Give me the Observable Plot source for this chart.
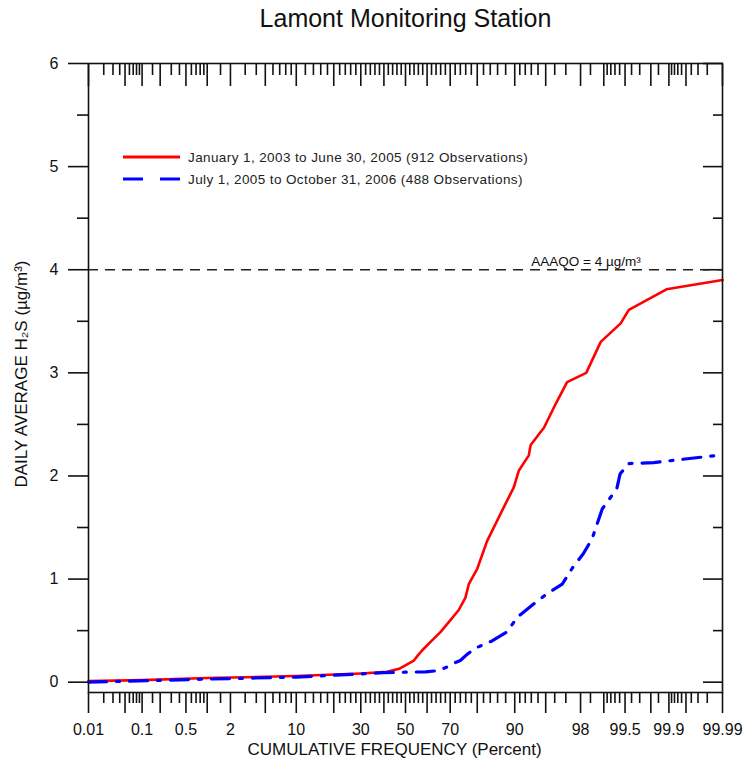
<!DOCTYPE html>
<html>
<head>
<meta charset="utf-8">
<script src="https://cdn.jsdelivr.net/npm/d3@7"></script>
<script src="https://cdn.jsdelivr.net/npm/@observablehq/plot@0.6"></script>
<style>
  html, body { margin: 0; padding: 0; background: #fff; }
  #wrap { position: relative; width: 748px; height: 765px; font-family: "Liberation Sans", Arial, sans-serif; color: #111; }
  #legend { position: absolute; left: 123px; top: 146px; font-size: 13.5px; letter-spacing: 0.4px; color: #222; }
  #legend .row { display: flex; align-items: center; height: 22px; white-space: nowrap; }
  #legend svg { margin-right: 8px; }
</style>
</head>
<body>
<div id="wrap"></div>
<script>
// ---- data (cumulative frequency in percent, daily average H2S in ug/m3) ----
const redPercent = [0.01, 0.1, 1, 10, 30, 41.5, 47, 53.9, 55.8, 57.8, 62, 65.9, 70, 73.4, 75.9, 77.1, 80, 83.1, 87.6, 89.8, 90.8, 92.6, 92.9, 94.8, 96.1, 97.1, 98.3, 98.9, 99.42, 99.56, 99.89, 99.99];
const redValue   = [0.01, 0.02, 0.04, 0.06, 0.085, 0.10, 0.13, 0.21, 0.26, 0.31, 0.40, 0.485, 0.60, 0.70, 0.82, 0.95, 1.10, 1.37, 1.70, 1.89, 2.05, 2.20, 2.30, 2.47, 2.70, 2.91, 3.00, 3.30, 3.48, 3.61, 3.81, 3.90];

const bluePercent = [0.01, 1, 10, 30, 40, 50, 59.3, 64, 68, 71, 74, 76.5, 79.4, 84.5, 88.4, 90.5, 93.4, 95.2, 96.7, 97.5, 98.15, 98.57, 98.95, 99.34, 99.41, 99.56, 99.82, 99.99];
const blueValue   = [0.0, 0.03, 0.05, 0.08, 0.093, 0.097, 0.10, 0.11, 0.14, 0.18, 0.21, 0.27, 0.33, 0.40, 0.49, 0.63, 0.76, 0.86, 0.95, 1.11, 1.245, 1.39, 1.68, 1.876, 2.02, 2.12, 2.13, 2.205];

const xTickLabels = ["0.01", "0.1", "0.5", "2", "10", "30", "50", "70", "90", "98", "99.5", "99.9", "99.99"];
const xMajorTicks = [0.01, 0.05, 0.1, 0.2, 0.5, 1, 2, 5, 10, 20, 30, 40, 50, 60, 70, 80, 90, 95, 98, 99, 99.5, 99.8, 99.9, 99.95, 99.99];
const xMinorTicks = [0.02, 0.03, 0.04, 0.06, 0.07, 0.08, 0.09, 0.15, 0.3, 0.4, 0.6, 0.7, 0.8, 0.9, 1.5, 3, 4, 6, 7, 8, 9,
  12, 14, 16, 18, 22, 24, 26, 28, 32, 34, 36, 38, 42, 44, 46, 48, 52, 54, 56, 58, 62, 64, 66, 68, 72, 74, 76, 78, 82, 84, 86, 88,
  91, 92, 93, 94, 96, 97, 98.5, 99.1, 99.2, 99.3, 99.4, 99.6, 99.7, 99.85, 99.91, 99.92, 99.93, 99.94, 99.96, 99.97, 99.98];
const yMajorTicks = [0, 1, 2, 3, 4, 5, 6];
const yMinorTicks = [0.5, 1.5, 2.5, 3.5, 4.5, 5.5];
const objectiveValue = 4;

const seriesNames = [
  "January 1, 2003 to June 30, 2005 (912 Observations)",
  "July 1, 2005 to October 31, 2006 (488 Observations)"
];

// ---- normal probability scale helper (inverse normal CDF, Acklam) ----
function probit(p) {
  const a = [-3.969683028665376e+01, 2.209460984245205e+02, -2.759285104469687e+02, 1.383577518672690e+02, -3.066479806614716e+01, 2.506628277459239e+00];
  const b = [-5.447609879822406e+01, 1.615858368580409e+02, -1.556989798598866e+02, 6.680131188771972e+01, -1.328068155288572e+01];
  const c = [-7.784894002430293e-03, -3.223964580411365e-01, -2.400758277161838e+00, -2.549732539343734e+00, 4.374664141464968e+00, 2.938163982698783e+00];
  const d = [7.784695709041462e-03, 3.224671290700398e-01, 2.445134137142996e+00, 3.754408661907416e+00];
  const plow = 0.02425, phigh = 1 - plow;
  if (p < plow) {
    const q = Math.sqrt(-2 * Math.log(p));
    return (((((c[0]*q+c[1])*q+c[2])*q+c[3])*q+c[4])*q+c[5]) / ((((d[0]*q+d[1])*q+d[2])*q+d[3])*q+1);
  } else if (p <= phigh) {
    const q = p - 0.5, r = q*q;
    return (((((a[0]*r+a[1])*r+a[2])*r+a[3])*r+a[4])*r+a[5])*q / (((((b[0]*r+b[1])*r+b[2])*r+b[3])*r+b[4])*r+1);
  } else {
    const q = Math.sqrt(-2 * Math.log(1 - p));
    return -(((((c[0]*q+c[1])*q+c[2])*q+c[3])*q+c[4])*q+c[5]) / ((((d[0]*q+d[1])*q+d[2])*q+d[3])*q+1);
  }
}
const px = (pct) => probit(pct / 100);

const red = redPercent.map((p, i) => ({x: px(p), y: redValue[i]}));
const blue = bluePercent.map((p, i) => ({x: px(p), y: blueValue[i]}));
const labelZ = xTickLabels.map(s => px(+s));
const labelMap = new Map(labelZ.map((z, i) => [z, xTickLabels[i]]));

const AX = {strokeWidth: 1.6, stroke: "#111"};

const chart = Plot.plot({
  width: 748,
  height: 765,
  marginLeft: 88,
  marginRight: 26,
  marginTop: 63,
  marginBottom: 73,
  style: {fontFamily: "Liberation Sans, Arial, sans-serif", fontSize: "16px", color: "#111", background: "#fff"},
  x: {type: "linear", domain: [px(0.01), px(99.99)], axis: null, label: null},
  y: {domain: [-0.1, 6], axis: null, label: null},
  marks: [
    // bottom axis: outward ticks
    Plot.axisX(xMajorTicks.map(px), {anchor: "bottom", tickSize: 21, fill: "none", label: null, ...AX}),
    Plot.axisX(xMinorTicks.map(px), {anchor: "bottom", tickSize: 11, fill: "none", label: null, ...AX}),
    Plot.axisX(labelZ, {anchor: "bottom", tickSize: 0, tickPadding: 31, tickFormat: d => labelMap.get(d), fontSize: 16, label: null}),
    // top axis: inward ticks
    Plot.axisX(xMajorTicks.map(px), {anchor: "top", tickSize: -22, fill: "none", label: null, ...AX}),
    Plot.axisX(xMinorTicks.map(px), {anchor: "top", tickSize: -11, fill: "none", label: null, ...AX}),
    // left axis: outward ticks
    Plot.axisY(yMajorTicks, {anchor: "left", tickSize: 20, tickPadding: 10, tickFormat: d => String(d), fontSize: 16, label: null, ...AX}),
    Plot.axisY(yMinorTicks, {anchor: "left", tickSize: 11, fill: "none", label: null, ...AX}),
    // right axis: inward ticks
    Plot.axisY(yMajorTicks, {anchor: "right", tickSize: -20, fill: "none", label: null, ...AX}),
    Plot.axisY(yMinorTicks, {anchor: "right", tickSize: -10, fill: "none", label: null, ...AX}),
    // objective line
    Plot.ruleY([objectiveValue], {stroke: "#222", strokeWidth: 1.5, strokeDasharray: "10,7"}),
    Plot.text([objectiveValue], {x: px(93), y: d => d, text: () => "AAAQO = 4 µg/m³", textAnchor: "start", lineAnchor: "bottom", dy: -4, fontSize: 13.5, letterSpacing: 0.4, fill: "#111"}),
    // series
    Plot.line(red, {x: "x", y: "y", stroke: "#ff0000", strokeWidth: 2.6}),
    Plot.line(blue, {x: "x", y: "y", stroke: "#0000ff", strokeWidth: 3.2, strokeDasharray: "18,10,3,10"}),
    Plot.frame({stroke: "#111", strokeWidth: 1.6}),
    // titles
    Plot.text(["Lamont Monitoring Station"], {frameAnchor: "top", dy: -45, lineAnchor: "middle", fontSize: 25, fill: "#111"}),
    Plot.text(["CUMULATIVE FREQUENCY (Percent)"], {frameAnchor: "bottom", dy: 62, dx: -11, fontSize: 17, letterSpacing: 0.5, fill: "#111"}),
    Plot.text(["DAILY AVERAGE H₂S (µg/m³)"], {frameAnchor: "left", dx: -67, dy: -4, rotate: -90, textAnchor: "middle", fontSize: 17, letterSpacing: 0.5, fill: "#111"})
  ]
});

const wrap = document.getElementById("wrap");
wrap.appendChild(chart);

// legend (HTML, over the plot area)
const legend = document.createElement("div");
legend.id = "legend";
const swatches = [
  {color: "#ff0000", dash: null, width: 3},
  {color: "#0000ff", dash: "20,17", width: 3.2}
];
seriesNames.forEach((name, i) => {
  const row = document.createElement("div");
  row.className = "row";
  const sw = swatches[i];
  row.innerHTML = `<svg width="57" height="12"><line x1="0" x2="57" y1="6" y2="6" stroke="${sw.color}" stroke-width="${sw.width}" ${sw.dash ? `stroke-dasharray="${sw.dash}"` : ""}/></svg><span>${name}</span>`;
  legend.appendChild(row);
});
wrap.appendChild(legend);
</script>
</body>
</html>
